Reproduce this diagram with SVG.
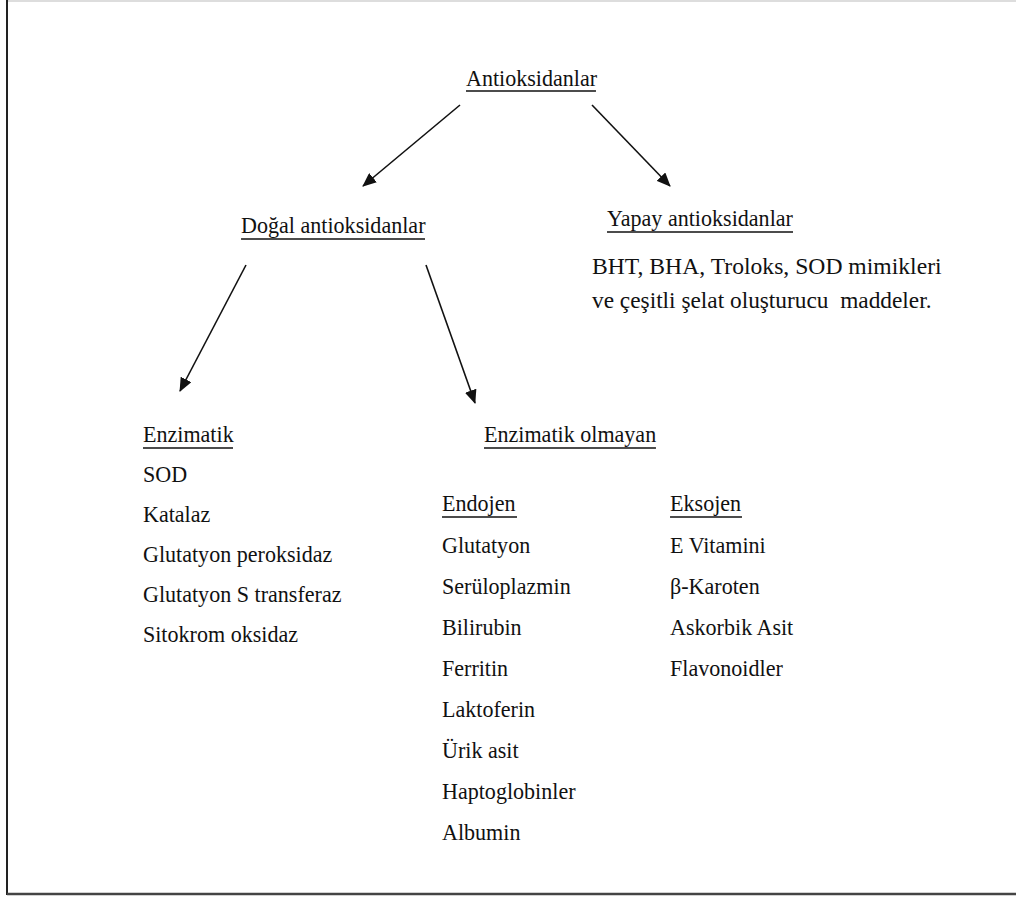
<svg xmlns="http://www.w3.org/2000/svg" width="1016" height="897" viewBox="0 0 1016 897">
<style>
text{font-family:"Liberation Serif","Times New Roman",serif;font-size:24px;fill:#111}
.u{stroke:#111;stroke-width:1.5}
.c{stroke:#111;stroke-width:1.6;fill:none;marker-end:url(#ah)}
</style>
<defs>
<marker id="ah" viewBox="0 0 14 12" refX="13" refY="6" markerWidth="14" markerHeight="12" markerUnits="userSpaceOnUse" orient="auto"><path d="M0,0 L14,6 L0,12 Z" fill="#111"/></marker>
</defs>
<rect width="1016" height="897" fill="#fff"/>
<g id="frame">
<line x1="7" y1="1" x2="1016" y2="1" stroke="#ddd" stroke-width="2"/>
<line x1="7" y1="0" x2="7" y2="895" stroke="#222" stroke-width="2"/>
<line x1="7" y1="894" x2="1016" y2="894" stroke="#444" stroke-width="2.5"/>
</g>
<g id="connectors">
<path class="c" d="M460,105 L363,186"/>
<path class="c" d="M592,105 L670,186"/>
<path class="c" d="M246,265 L180,391"/>
<path class="c" d="M426,265 L475,403"/>
</g>
<g id="labels" transform="scale(0.92 1)">
<g id="root">
<text x="506.5" y="86">Antioksidanlar</text>
<line class="u" x1="506.5" y1="91" x2="647.8" y2="91"/>
</g>
<g id="dogal">
<text x="262" y="233">Doğal antioksidanlar</text>
<line class="u" x1="262" y1="239" x2="462" y2="239"/>
</g>
<g id="yapay">
<text x="659.8" y="226">Yapay antioksidanlar</text>
<line class="u" x1="659.8" y1="232" x2="862" y2="232"/>
<text x="643.5" y="274" textLength="380" lengthAdjust="spacingAndGlyphs">BHT, BHA, Troloks, SOD mimikleri</text>
<text x="643.5" y="308" textLength="369" lengthAdjust="spacingAndGlyphs" xml:space="preserve">ve çeşitli şelat oluşturucu  maddeler.</text>
</g>
<g id="enzimatik">
<text x="155.4" y="442">Enzimatik</text>
<line class="u" x1="155.4" y1="448" x2="253.3" y2="448"/>
<text x="155.4" y="482">SOD</text>
<text x="155.4" y="522">Katalaz</text>
<text x="155.4" y="562">Glutatyon peroksidaz</text>
<text x="155.4" y="602">Glutatyon S transferaz</text>
<text x="155.4" y="642">Sitokrom oksidaz</text>
</g>
<g id="enzimatik-olmayan">
<text x="526.1" y="442">Enzimatik olmayan</text>
<line class="u" x1="526.1" y1="448" x2="713" y2="448"/>
</g>
<g id="endojen">
<text x="480.4" y="511">Endojen</text>
<line class="u" x1="480.4" y1="517" x2="562" y2="517"/>
<text x="480.4" y="553">Glutatyon</text>
<text x="480.4" y="594">Serüloplazmin</text>
<text x="480.4" y="635">Bilirubin</text>
<text x="480.4" y="676">Ferritin</text>
<text x="480.4" y="717">Laktoferin</text>
<text x="480.4" y="758">Ürik asit</text>
<text x="480.4" y="799">Haptoglobinler</text>
<text x="480.4" y="840">Albumin</text>
</g>
<g id="eksojen">
<text x="728.3" y="511">Eksojen</text>
<line class="u" x1="728.3" y1="517" x2="806.5" y2="517"/>
<text x="728.3" y="553">E Vitamini</text>
<text x="728.3" y="594">β-Karoten</text>
<text x="728.3" y="635">Askorbik Asit</text>
<text x="728.3" y="676">Flavonoidler</text>
</g>
</g>
</svg>
